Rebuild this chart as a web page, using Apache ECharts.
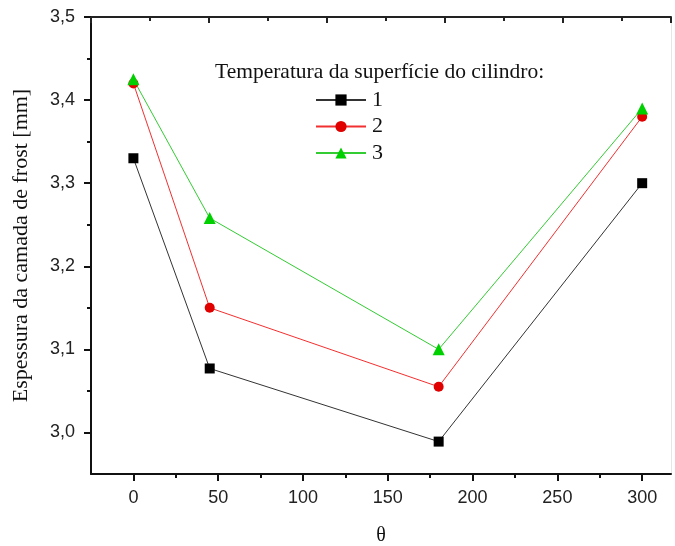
<!DOCTYPE html>
<html>
<head>
<meta charset="utf-8">
<script src="https://cdn.jsdelivr.net/npm/echarts@6/dist/echarts.min.js"></script>
<style>
html,body{margin:0;padding:0;background:#fff;}
#chart{width:675px;height:546px;}
</style>
</head>
<body>
<div id="chart"></div>
<script>
const thetaValues = [0, 45, 180, 300];
const series1 = [3.33, 3.077, 2.989, 3.30];
const series2 = [3.42, 3.15, 3.055, 3.38];
const series3 = [3.425, 3.258, 3.10, 3.39];
const seriesNames = ['1', '2', '3'];
const xTickLabels = [0, 50, 100, 150, 200, 250, 300];
const xMinorTicks = [25, 75, 125, 175, 225, 275];
const yTickLabels = [3.0, 3.1, 3.2, 3.3, 3.4, 3.5];
const yMinorTicks = [3.05, 3.15, 3.25, 3.35, 3.45];
const legendTitle = 'Temperatura da superfície do cilindro:';
const yAxisTitle = 'Espessura da camada de frost [mm]';
const xAxisTitle = 'θ';

const pair = (xs, ys) => xs.map((x, i) => [x, ys[i]]);
const XMIN = -25, XMAX = 317, YMIN = 2.95, YMAX = 3.5;
const sans = 'Liberation Sans, Arial, sans-serif';
const serif = 'Liberation Serif, Times New Roman, serif';

const chart = echarts.init(document.getElementById('chart'));
chart.setOption({
  animation: false,
  backgroundColor: '#fff',
  grid: { left: 91, right: 4, top: 17, bottom: 72, containLabel: false, outerBoundsMode: 'none' },
  title: {
    text: legendTitle, left: 210, top: 56,
    textStyle: { fontFamily: serif, fontSize: 21.5, fontWeight: 'normal', color: '#111' }
  },
  legend: {
    orient: 'vertical', left: 310, top: 84,
    itemWidth: 50, itemHeight: 14, itemGap: 4.5,
    data: seriesNames,
    textStyle: { fontFamily: serif, fontSize: 22, color: '#111', padding: [0,0,0,1] }
  },
  xAxis: [
    {
      type: 'value', position: 'bottom', min: XMIN, max: XMAX,
      name: xAxisTitle, nameLocation: 'middle', nameGap: 52,
      nameTextStyle: { fontFamily: serif, fontSize: 20, color: '#111' },
      axisLine: { show: true, onZero: false, lineStyle: { color: '#111', width: 2 } },
      axisTick: { show: true, inside: false, length: 7, customValues: xTickLabels, lineStyle: { color: '#111', width: 2 } },
      axisLabel: { customValues: xTickLabels, margin: 15, fontFamily: sans, fontSize: 18, color: '#222' },
      splitLine: { show: false }
    },
    {
      type: 'value', position: 'bottom', min: XMIN, max: XMAX,
      axisLine: { show: false, onZero: false },
      axisTick: { show: true, inside: false, length: 4, customValues: xMinorTicks, lineStyle: { color: '#111', width: 2 } },
      axisLabel: { show: false },
      splitLine: { show: false }
    },
    {
      type: 'value', position: 'top', min: 0, max: 9.84, interval: 2,
      axisLine: { show: true, onZero: false, lineStyle: { color: '#222', width: 2 } },
      axisTick: { show: true, inside: true, length: 6, lineStyle: { color: '#222', width: 2 } },
      minorTick: { show: true, splitNumber: 2, length: 4, lineStyle: { color: '#222', width: 2 } },
      axisLabel: { show: false },
      splitLine: { show: false }
    }
  ],
  yAxis: [
    {
      type: 'value', position: 'left', min: YMIN, max: YMAX,
      name: yAxisTitle, nameLocation: 'middle', nameGap: 59,
      nameTextStyle: { fontFamily: serif, fontSize: 22, color: '#111' },
      axisLine: { show: true, onZero: false, lineStyle: { color: '#111', width: 2 } },
      axisTick: { show: true, inside: false, length: 7, customValues: yTickLabels, lineStyle: { color: '#111', width: 2 } },
      axisLabel: {
        customValues: yTickLabels, margin: 16, fontFamily: sans, fontSize: 18, color: '#222',
        formatter: v => v.toFixed(1).replace('.', ',')
      },
      splitLine: { show: false }
    },
    {
      type: 'value', position: 'left', min: YMIN, max: YMAX,
      axisLine: { show: false, onZero: false },
      axisTick: { show: true, inside: false, length: 4, customValues: yMinorTicks, lineStyle: { color: '#111', width: 2 } },
      axisLabel: { show: false },
      splitLine: { show: false }
    },
    {
      type: 'value', position: 'right', min: YMIN, max: YMAX,
      axisLine: { show: true, onZero: false, lineStyle: { color: '#e6e6e6', width: 1 } },
      axisTick: { show: false }, axisLabel: { show: false }, splitLine: { show: false }
    }
  ],
  series: [
    {
      name: seriesNames[0], type: 'line', xAxisIndex: 0, yAxisIndex: 0,
      data: pair(thetaValues, series1),
      symbol: 'rect', symbolSize: 10,
      lineStyle: { color: '#333', width: 1 },
      itemStyle: { color: '#000' }
    },
    {
      name: seriesNames[1], type: 'line', xAxisIndex: 0, yAxisIndex: 0,
      data: pair(thetaValues, series2),
      symbol: 'circle', symbolSize: 10,
      lineStyle: { color: '#f23030', width: 1 },
      itemStyle: { color: '#e00000' }
    },
    {
      name: seriesNames[2], type: 'line', xAxisIndex: 0, yAxisIndex: 0,
      data: pair(thetaValues, series3),
      symbol: 'triangle', symbolSize: 12,
      lineStyle: { color: '#33cc33', width: 1 },
      itemStyle: { color: '#00d000' }
    }
  ]
});
</script>
</body>
</html>
